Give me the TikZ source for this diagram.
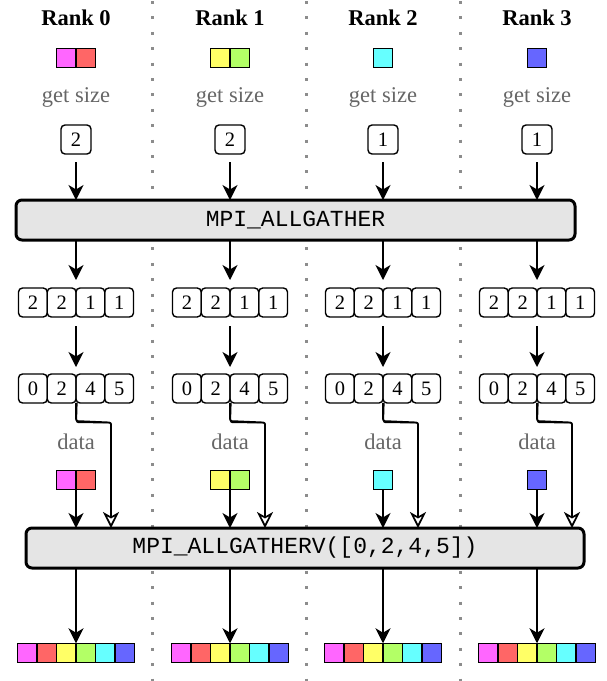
\documentclass[tikz,border=0pt]{standalone}
\usepackage{fontspec}
\setmainfont{Liberation Serif}
\newfontfamily\codefont{Liberation Mono}
\usetikzlibrary{arrows.meta,calc}
\definecolor{cM}{HTML}{FF66FF}
\definecolor{cR}{HTML}{FF6666}
\definecolor{cY}{HTML}{FFFF66}
\definecolor{cG}{HTML}{B3FF66}
\definecolor{cC}{HTML}{66FFFF}
\definecolor{cB}{HTML}{6666FF}
\begin{document}
\begin{tikzpicture}[x=1pt,y=-1pt,
  sep/.style={draw=black!45,line width=3pt,dash pattern=on 3pt off 12.4pt,dash phase=-1pt},
  rank/.style={font=\bfseries\fontsize{22.5}{26}\selectfont,inner sep=0pt},
  lbl/.style={font=\fontsize{22.5}{26}\selectfont,text=black!60,inner sep=0pt},
  cell/.style={draw,line width=1.3pt,minimum size=19.5pt,inner sep=0pt,outer sep=0pt},
  numbox/.style={draw,line width=1.4pt,rounded corners=4pt,minimum width=28.75pt,minimum height=29pt,inner sep=0pt,outer sep=0pt,font=\fontsize{20.5}{24}\selectfont},
  bigbox/.style={draw,line width=3pt,rounded corners=6pt,fill=black!10,minimum height=40pt,inner sep=0pt,outer sep=0pt,font=\codefont\fontsize{23}{27}\selectfont},
  arr/.style={-{Stealth[length=15pt,width=15pt,inset=4.5pt]},line width=1.7pt},
  openarr/.style={-{Stealth[open,length=16pt,width=16pt,inset=4.5pt]},line width=1.7pt},
  sketch/.style={line width=1.2pt}
]
\useasboundingbox (0,0) rectangle (606,681);
% column separators
\foreach \x in {152.5,306,460} \draw[sep] (\x,0) -- (\x,681);

% big operation boxes
\node[bigbox,minimum width=559pt] (ag) at (295.5,220) {MPI\_ALLGATHER};
\node[bigbox,minimum width=558pt] (agv) at (305,548) {MPI\_ALLGATHERV([0,2,4,5])};

% data blocks (top and before ALLGATHERV)
\node[cell,fill=cM,anchor=east] (t0a) at (76,58) {};
\node[cell,fill=cR,anchor=west] (t0b) at (76,58) {};
\node[cell,fill=cY,anchor=east] (t1a) at (230,58) {};
\node[cell,fill=cG,anchor=west] (t1b) at (230,58) {};
\node[cell,fill=cC] (t2) at (383,58) {};
\node[cell,fill=cB] (t3) at (537,58) {};
\node[cell,fill=cM,anchor=east] (d0a) at (76,480) {};
\node[cell,fill=cR,anchor=west] (d0b) at (76,480) {};
\node[cell,fill=cY,anchor=east] (d1a) at (230,480) {};
\node[cell,fill=cG,anchor=west] (d1b) at (230,480) {};
\node[cell,fill=cC] (d2) at (383,480) {};
\node[cell,fill=cB] (d3) at (537,480) {};

\foreach \i/\cx/\n in {0/76/2,1/230/2,2/383/1,3/537/1} {
  \node[rank] (rank\i) at (\cx,18) {Rank \i};
  \node[lbl] (gs\i) at (\cx,97) {get size};
  \node[numbox,minimum width=30pt] (sz\i) at (\cx,139.5) {\n};
  \node[lbl] (dl\i) at (\cx,442) {data};
  \foreach \v [count=\k from 0] in {2,2,1,1}
    \node[numbox] (c\i-\k) at ({\cx+(\k-1.5)*28.75},302.5) {\v};
  \foreach \v [count=\k from 0] in {0,2,4,5}
    \node[numbox] (o\i-\k) at ({\cx+(\k-1.5)*28.75},388.5) {\v};
  \foreach \c [count=\k from 0] in {cM,cR,cY,cG,cC,cB}
    \node[cell,fill=\c] (r\i-\k) at ({\cx+(\k-2.5)*19.5},653) {};
  % connectors
  \draw[arr,shorten <=8pt] (sz\i) -- (sz\i |- ag.north);
  \draw[arr,shorten >=8pt] (c\i-1.north east |- ag.south) -- (c\i-1.north east);
  \draw[arr,shorten <=9pt,shorten >=7pt] (c\i-1.south east) -- (o\i-1.north east);
  \coordinate (w\i) at ($(o\i-2.south west)+(35,0)$);
  \draw[sketch,rounded corners=2pt] ($(o\i-2.south west)+(1,0)$) -- ++(-0.6,19.5) -- ++(35,0.3) -- ($(w\i |- agv.north)+(0,-16)$);
  \draw[openarr] (o\i-2.south west) [rounded corners=2pt] -- ++(0,18) -- ++(35,1.5) [sharp corners] -- (w\i |- agv.north);
  \draw[arr] (agv.south -| r\i-2.north east) -- (r\i-2.north east);
}
\draw[arr] (d0a.south east) -- (d0a.south east |- agv.north);
\draw[arr] (d1a.south east) -- (d1a.south east |- agv.north);
\draw[arr] (d2.south) -- (d2.south |- agv.north);
\draw[arr] (d3.south) -- (d3.south |- agv.north);
\end{tikzpicture}
\end{document}
